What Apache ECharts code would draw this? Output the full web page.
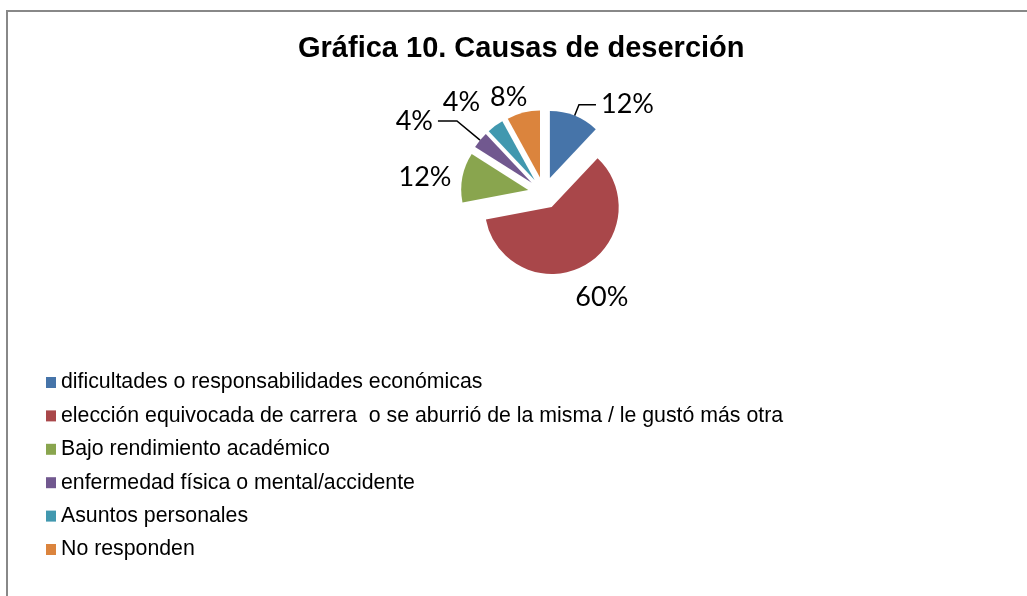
<!DOCTYPE html>
<html><head><meta charset="utf-8">
<script src="https://cdn.jsdelivr.net/npm/echarts@6/dist/echarts.min.js"></script>
<style>html,body{margin:0;padding:0;background:#fff}#c{width:1027px;height:596px}</style>
</head><body><div id="c"></div>
<script>
const titleText = 'Gráfica 10. Causas de deserción';
const categories = [
  'dificultades o responsabilidades económicas',
  'elección equivocada de carrera  o se aburrió de la misma / le gustó más otra',
  'Bajo rendimiento académico',
  'enfermedad física o mental/accidente',
  'Asuntos personales',
  'No responden'
];
const values = [12, 60, 12, 4, 4, 8];
const colors = ['#4674A9', '#A9474A', '#89A54E', '#71588F', '#4198AF', '#DB843D'];
// label leader settings per slice: [length, length2, showLine]
const leader = [[12, 17, true], [36, -31, false], [2, 4, false], [30, 19, true], [29, -7, false], [16, -13, false]];

const chart = echarts.init(document.getElementById('c'), null, {renderer: 'canvas'});
chart.setOption({
  animation: false,
  backgroundColor: '#fff',
  graphic: [{
    type: 'rect', shape: {x: 7, y: 11, width: 1200, height: 800},
    style: {fill: 'none', stroke: '#888', lineWidth: 2}, silent: true
  }],
  title: {
    text: titleText, left: 298, top: 34, padding: 0,
    textStyle: {fontFamily: 'Liberation Sans', fontWeight: 'bold', fontSize: 29, color: '#000'}
  },
  legend: {
    orient: 'vertical', left: 46, top: 372, itemWidth: 10, itemHeight: 11, itemGap: 12.4,
    icon: 'rect', selectedMode: false, padding: 0,
    textStyle: {fontFamily: 'Liberation Sans', fontSize: 21.3, color: '#000'},
    data: categories
  },
  series: [{
    type: 'pie', center: [544, 193], radius: 67, startAngle: 90, clockwise: true,
    selectedMode: 'multiple', selectedOffset: 16, avoidLabelOverlap: false,
    emphasis: {disabled: true}, silent: true,
    label: {show: true, position: 'outside', formatter: '{d}%', fontFamily: 'Lato', fontSize: 27, color: '#000'},
    labelLine: {lineStyle: {color: '#000', width: 1.5}, smooth: false},
    data: categories.map((n, i) => ({
      name: n, value: values[i], selected: true,
      itemStyle: {color: colors[i]},
      labelLine: {show: leader[i][2], length: leader[i][0], length2: leader[i][1]}
    }))
  }]
});
</script></body></html>
